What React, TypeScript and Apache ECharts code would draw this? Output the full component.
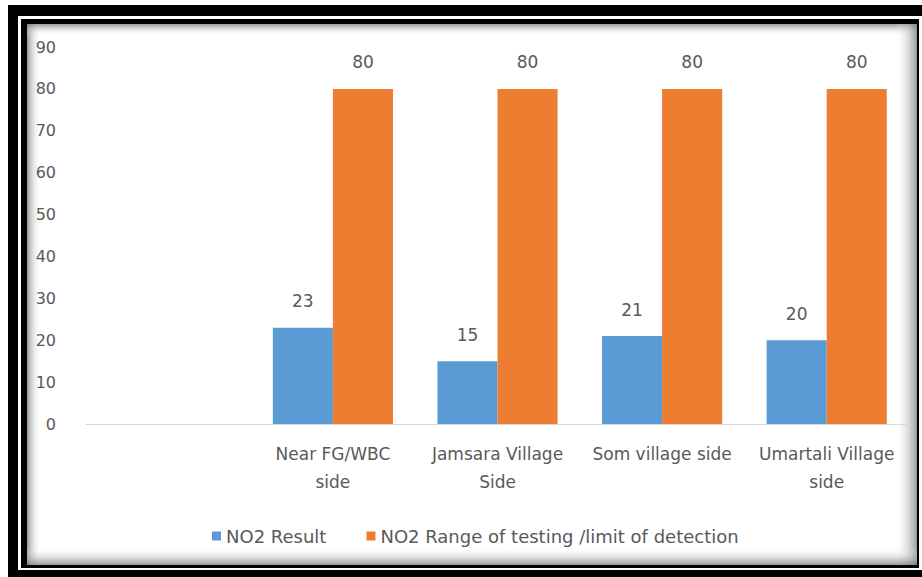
import React, { useEffect, useRef } from "react";
import * as echarts from "echarts";

const categories = ["", "Near FG/WBC\nside", "Jamsara Village\nSide", "Som village side", "Umartali Village\nside"];
const no2Result = [null, 23, 15, 21, 20];
const no2Range = [null, 80, 80, 80, 80];
const seriesNames = ["NO2 Result", "NO2 Range of testing /limit of detection"];

const FONT = "DejaVu Sans";
const TEXT = "#595959";

export default function App() {
  const ref = useRef<HTMLDivElement>(null);
  useEffect(() => {
    if (!ref.current) return;
    const chart = echarts.init(ref.current, null, { renderer: "svg" });
    const grad = (x: number, y: number, x2: number, y2: number) => ({
      type: "linear", x, y, x2, y2,
      colorStops: [
        { offset: 0, color: "rgba(120,120,120,0.75)" },
        { offset: 1, color: "rgba(255,255,255,0)" },
      ],
    });
    const option: any = {
      animation: false,
      backgroundColor: "#ffffff",
      textStyle: { fontFamily: FONT },
      graphic: [
        { type: "rect", z: 0, shape: { x: 8, y: 5, width: 914, height: 572 }, style: { fill: "#000" } },
        { type: "rect", z: 0, shape: { x: 18, y: 16, width: 904, height: 554 }, style: { fill: "#fff" } },
        { type: "rect", z: 0, shape: { x: 21, y: 19, width: 898, height: 549 }, style: { fill: "#000" } },
        { type: "rect", z: 0, shape: { x: 27, y: 24, width: 890, height: 541 }, style: { fill: "#fff" } },
        { type: "rect", z: 0, shape: { x: 27, y: 24, width: 14, height: 541 }, style: { fill: grad(0, 0, 1, 0) } },
        { type: "rect", z: 0, shape: { x: 27, y: 24, width: 890, height: 12 }, style: { fill: grad(0, 0, 0, 1) } },
        { type: "rect", z: 0, shape: { x: 895, y: 24, width: 22, height: 541 }, style: { fill: grad(1, 0, 0, 0) } },
        { type: "rect", z: 0, shape: { x: 27, y: 547, width: 890, height: 18 }, style: { fill: grad(0, 1, 0, 0) } },
      ],
      grid: { left: 86, right: 13, top: 47, bottom: 153 },
      legend: {
        left: 207,
        top: 522,
        icon: "rect",
        itemWidth: 9,
        itemHeight: 9,
        itemGap: 40,
        textStyle: { color: TEXT, fontSize: 18, fontFamily: FONT },
        data: seriesNames,
      },
      xAxis: {
        type: "category",
        data: categories,
        axisLine: { lineStyle: { color: "#D9D9D9", width: 1 } },
        axisTick: { show: false },
        axisLabel: { color: TEXT, fontSize: 17, lineHeight: 28, margin: 16, interval: 0, fontFamily: FONT },
      },
      yAxis: {
        type: "value",
        min: 0,
        max: 90,
        interval: 10,
        splitLine: { show: false },
        axisLine: { show: false },
        axisTick: { show: false },
        axisLabel: { color: TEXT, fontSize: 16, margin: 30, fontFamily: FONT },
      },
      series: [
        {
          name: seriesNames[0],
          type: "bar",
          data: no2Result,
          barGap: "0%",
          barCategoryGap: "27%",
          itemStyle: { color: "#5B9BD5" },
          label: { show: true, position: "top", distance: 18, color: TEXT, fontSize: 17, fontFamily: FONT },
        },
        {
          name: seriesNames[1],
          type: "bar",
          data: no2Range,
          barGap: "0%",
          barCategoryGap: "27%",
          itemStyle: { color: "#ED7D31" },
          label: { show: true, position: "top", distance: 18, color: TEXT, fontSize: 17, fontFamily: FONT },
        },
      ],
    };
    chart.setOption(option);
    return () => chart.dispose();
  }, []);
  return <div ref={ref} style={{ position: "absolute", left: 0, top: 0, width: 922, height: 577 }} />;
}
